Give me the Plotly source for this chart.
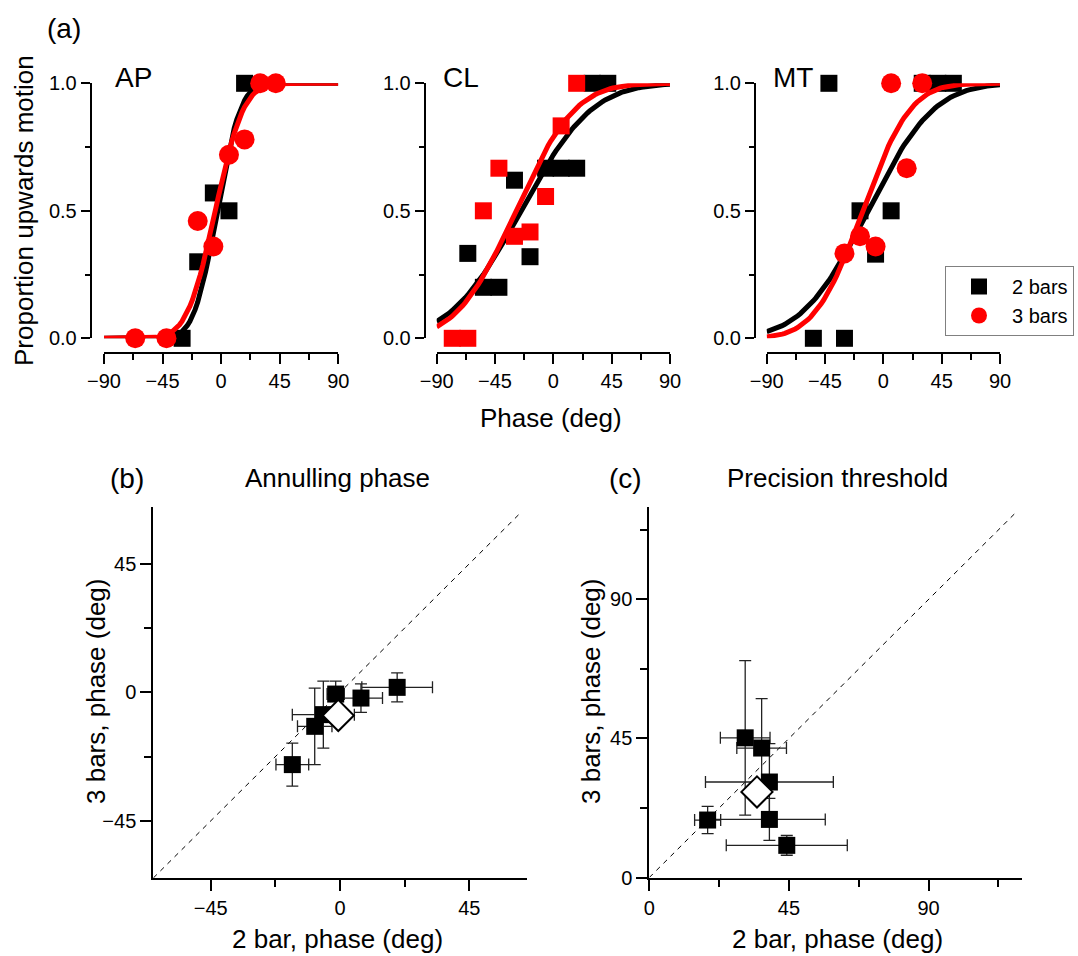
import math
import plotly.graph_objects as go

W, H = 1078, 956
FONT = "Liberation Sans, Arial, Helvetica, sans-serif"

# ---------------- panel (a) data ----------------
ap_2_x = [-30, -18, -6, 6, 18]
ap_2_y = [0.0, 0.30, 0.57, 0.50, 1.0]
ap_3_x = [-66, -42, -18, -6, 6, 18, 30, 42]
ap_3_y = [0.0, 0.0, 0.46, 0.36, 0.72, 0.78, 1.0, 1.0]

cl_2_x = [-66, -54, -42, -30, -18, -6, 6, 18, 30, 42]
cl_2_y = [0.333, 0.2, 0.2, 0.62, 0.32, 0.667, 0.667, 0.667, 1.0, 1.0]
cl_3_x = [-78, -66, -54, -42, -30, -18, -6, 6, 18]
cl_3_y = [0.0, 0.0, 0.5, 0.667, 0.4, 0.417, 0.556, 0.833, 1.0]

mt_2_x = [-54, -42, -30, -18, -6, 6, 30, 42, 54]
mt_2_y = [0.0, 1.0, 0.0, 0.5, 0.33, 0.5, 1.0, 1.0, 1.0]
mt_3_x = [-30, -18, -6, 6, 18, 30]
mt_3_y = [0.333, 0.4, 0.36, 1.0, 0.667, 1.0]

# fitted cumulative-Gaussian psychometric functions: [mean, sd] (deg)
ap_fit_2 = [-3, 14]
ap_fit_3 = [-4.5, 17]
cl_fit_2 = [-25, 43]
cl_fit_3 = [-29, 36]
mt_fit_2 = [-12, 40]
mt_fit_3 = [-16, 29]

phase_ticks = [-90, -45, 0, 45, 90]
prop_ticks = [0.0, 0.5, 1.0]

# ---------------- panel (b): annulling phase ----------------
b_x = [-16.6, -8.8, -5.8, -1.5, 7.3, 19.9]
b_y = [-25.3, -11.9, -7.8, -0.6, -2.0, 1.75]
b_xerr = [5.7, 6.0, 10.8, 3.0, 7.5, 12.3]
b_yerr = [7.5, 13.4, 11.7, 4.5, 5.0, 5.1]
b_mean = [-0.6, -8.1]
b_diag = [-65, 63]
b_ticks = [-45, 0, 45]

# ---------------- panel (c): precision threshold ----------------
c_x = [30.9, 36.2, 38.7, 38.7, 18.8, 44.3]
c_y = [45.2, 41.9, 30.9, 18.8, 18.6, 10.4]
c_xerr = [8.0, 8.0, 20.6, 18.0, 4.2, 19.5]
c_yerr = [25.0, 16.0, 12.4, 6.8, 4.4, 3.2]
c_mean = [34.7, 27.7]
c_diag = [0, 118]
c_ticks = [0, 45, 90]

fit_phase = list(range(-90, 91, 2))


def cumgauss(params):
    mu, sd = params
    return [0.5 * (1 + math.erf((p - mu) / (sd * math.sqrt(2)))) for p in fit_phase]


def tick_text(vals):
    return [("\u2212" + str(-t)) if t < 0 else str(t) for t in vals]


fig = go.Figure()

panels = [
    ("x", "y", ap_2_x, ap_2_y, ap_3_x, ap_3_y, ap_fit_2, ap_fit_3, "circle", True),
    ("x2", "y2", cl_2_x, cl_2_y, cl_3_x, cl_3_y, cl_fit_2, cl_fit_3, "square", False),
    ("x3", "y3", mt_2_x, mt_2_y, mt_3_x, mt_3_y, mt_fit_2, mt_fit_3, "circle", False),
]

for xa, ya, x2, y2, x3, y3, f2, f3, sym3, leg in panels:
    fig.add_trace(go.Scatter(x=fit_phase, y=cumgauss(f2), mode="lines",
                             line=dict(color="black", width=5), xaxis=xa, yaxis=ya,
                             showlegend=False, cliponaxis=False, hoverinfo="skip"))
    fig.add_trace(go.Scatter(x=x2, y=y2, mode="markers", name="2 bars",
                             marker=dict(symbol="square", size=17, color="black", line=dict(width=0)),
                             xaxis=xa, yaxis=ya, showlegend=leg, cliponaxis=False))
    fig.add_trace(go.Scatter(x=fit_phase, y=cumgauss(f3), mode="lines",
                             line=dict(color="#ff0000", width=5), xaxis=xa, yaxis=ya,
                             showlegend=False, cliponaxis=False, hoverinfo="skip"))
    fig.add_trace(go.Scatter(x=x3, y=y3, mode="markers", name="3 bars",
                             marker=dict(symbol=sym3, size=20 if sym3 == "circle" else 17,
                                         color="#ff0000", line=dict(width=0)),
                             xaxis=xa, yaxis=ya, showlegend=leg, cliponaxis=False))

err_style = dict(type="data", symmetric=True, color="#222222", thickness=1.3, width=6)

# panel b
fig.add_trace(go.Scatter(x=b_diag, y=b_diag, mode="lines", xaxis="x4", yaxis="y4",
                         line=dict(color="black", width=1, dash="5px,5px"),
                         showlegend=False, hoverinfo="skip"))
fig.add_trace(go.Scatter(x=b_x, y=b_y, mode="markers", xaxis="x4", yaxis="y4",
                         marker=dict(symbol="square", size=17, color="black", line=dict(width=0)),
                         error_x=dict(array=b_xerr, **err_style),
                         error_y=dict(array=b_yerr, **err_style),
                         showlegend=False, cliponaxis=False))
fig.add_trace(go.Scatter(x=[b_mean[0]], y=[b_mean[1]], mode="markers", xaxis="x4", yaxis="y4",
                         marker=dict(symbol="diamond", size=24, color="white",
                                     line=dict(color="black", width=2)),
                         showlegend=False, cliponaxis=False))

# panel c
fig.add_trace(go.Scatter(x=c_diag, y=c_diag, mode="lines", xaxis="x5", yaxis="y5",
                         line=dict(color="black", width=1, dash="5px,5px"),
                         showlegend=False, hoverinfo="skip"))
fig.add_trace(go.Scatter(x=c_x, y=c_y, mode="markers", xaxis="x5", yaxis="y5",
                         marker=dict(symbol="square", size=17, color="black", line=dict(width=0)),
                         error_x=dict(array=c_xerr, **err_style),
                         error_y=dict(array=c_yerr, **err_style),
                         showlegend=False, cliponaxis=False))
fig.add_trace(go.Scatter(x=[c_mean[0]], y=[c_mean[1]], mode="markers", xaxis="x5", yaxis="y5",
                         marker=dict(symbol="diamond", size=24, color="white",
                                     line=dict(color="black", width=2)),
                         showlegend=False, cliponaxis=False))


def axis(**kw):
    d = dict(showline=True, linecolor="black", linewidth=2, ticks="outside",
             tickcolor="black", tickwidth=2, ticklen=10, showgrid=False, zeroline=False,
             automargin=False,
             tickfont=dict(family=FONT, size=20, color="black"))
    d.update(kw)
    return d


def px(v):
    return v / W


def py(v):
    return 1 - v / H


ydom_a = [py(338.3), py(83.3)]
xdoms_a = [[px(104), px(338.3)], [px(436.7), px(670)], [px(766.7), px(1000)]]
ypos_a = [px(90.7), px(424.7), px(755)]

layout = dict(template="none", width=W, height=H, margin=dict(l=0, r=0, t=0, b=0, pad=0),
              autosize=False,
              paper_bgcolor="white", plot_bgcolor="white",
              font=dict(family=FONT, color="black"),
              legend=dict(x=px(945), y=py(266), xanchor="left", yanchor="top",
                          bordercolor="#808080", borderwidth=1, bgcolor="white",
                          font=dict(family=FONT, size=20, color="black"),
                          itemwidth=56, tracegroupgap=0))

for i, (xd, yp) in enumerate(zip(xdoms_a, ypos_a)):
    sfx = "" if i == 0 else str(i + 1)
    layout["xaxis" + sfx] = axis(domain=xd, range=[-90, 90], anchor="free", position=py(353.3),
                                 tickvals=phase_ticks, ticktext=tick_text(phase_ticks),
                                 minor=dict(ticks="outside", ticklen=6, tickwidth=2, tickcolor="black",
                                            dtick=22.5, tick0=0, showgrid=False))
    layout["yaxis" + sfx] = axis(domain=ydom_a, range=[0, 1], anchor="free", position=yp,
                                 tickvals=prop_ticks, ticktext=["%.1f" % t for t in prop_ticks],
                                 ticklen=9,
                                 minor=dict(ticks="outside", ticklen=5, tickwidth=2, tickcolor="black",
                                            dtick=0.25, tick0=0, showgrid=False))

minor_bc = dict(ticks="outside", ticklen=7, tickwidth=2, tickcolor="black", dtick=22.5, tick0=0, showgrid=False)
layout["xaxis4"] = axis(domain=[px(153.3), px(526.7)], range=[-65, 65], anchor="y4",
                        tickvals=b_ticks, ticktext=tick_text(b_ticks), ticklen=11, minor=minor_bc)
layout["yaxis4"] = axis(domain=[py(878), py(506.7)], range=[-65, 65], anchor="x4",
                        tickvals=b_ticks, ticktext=tick_text(b_ticks), ticklen=11, minor=minor_bc)
layout["xaxis5"] = axis(domain=[px(649.3), px(1021.7)], range=[0, 120], anchor="y5",
                        tickvals=c_ticks, ticktext=tick_text(c_ticks), ticklen=11, minor=minor_bc)
layout["yaxis5"] = axis(domain=[py(877.5), py(506.7)], range=[0, 120], anchor="x5",
                        tickvals=c_ticks, ticktext=tick_text(c_ticks), ticklen=11, minor=minor_bc)

fig.update_layout(**layout)


def label(text, x, y, size, angle=0):
    fig.add_annotation(text=text, x=px(x), y=py(y), xref="paper", yref="paper",
                       xanchor="center", yanchor="middle", showarrow=False, textangle=angle,
                       font=dict(family=FONT, size=size, color="black"))


label("(a)", 64, 28, 28)
label("AP", 133, 77, 28)
label("CL", 461, 77, 28)
label("MT", 793, 77, 28)
label("Proportion upwards motion", 24, 211, 26, -90)
label("Phase (deg)", 551, 418, 26)
label("(b)", 127, 478, 28)
label("Annulling phase", 337, 478, 26)
label("(c)", 625, 478, 28)
label("Precision threshold", 837, 478, 26)
label("3 bars, phase (deg)", 96, 692, 26, -90)
label("3 bars, phase (deg)", 591, 692, 26, -90)
label("2 bar, phase (deg)", 337, 939, 26)
label("2 bar, phase (deg)", 837, 939, 26)

fig.write_html("out.html", config={"displayModeBar": False},
               post_script="document.body.style.margin='0';document.body.style.overflow='hidden';")
